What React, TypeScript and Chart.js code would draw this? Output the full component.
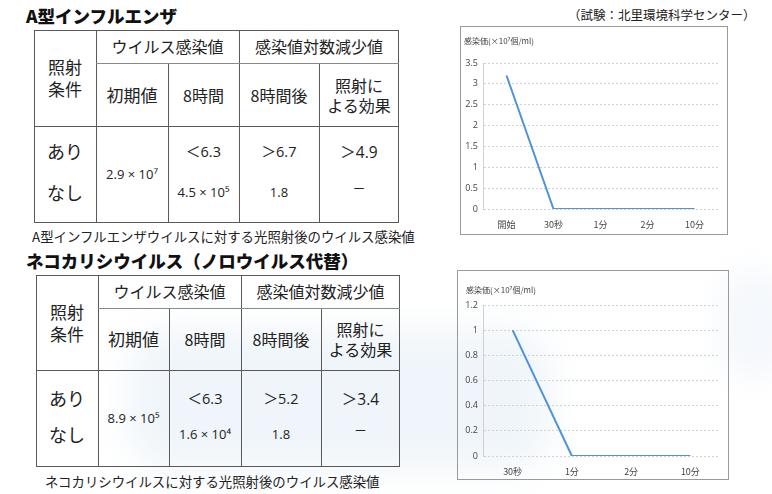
import React, { useEffect, useRef } from "react";
import { Chart, registerables } from "chart.js";

Chart.register(...registerables);

// ---------- data ----------
const fluTimes = ["開始", "30秒", "1分", "2分", "10分"];
const fluValues = [3.2, 0, 0, 0, 0];
const fluYMax = 3.5;
const fluYStep = 0.5;

const fcvTimes = ["30秒", "1分", "2分", "10分"];
const fcvValues = [1, 0, 0, 0];
const fcvYMax = 1.2;
const fcvYStep = 0.2;

const yAxisTitle = "感染価(×10⁷個/ml)";

const fluTitle = "A型インフルエンザ";
const fcvTitle = "ネコカリシウイルス（ノロウイルス代替）";
const sourceNote = "（試験：北里環境科学センター）";
const fluCaption = "A型インフルエンザウイルスに対する光照射後のウイルス感染値";
const fcvCaption = "ネコカリシウイルスに対する光照射後のウイルス感染値";

const headerGroups = ["ウイルス感染値", "感染値対数減少値"];
const headerCond = ["照射", "条件"];
const subHeaders = ["初期値", "8時間", "8時間後", "照射に\nよる効果"];
const conditions = ["あり", "なし"];

const fluInitial = "2.9 × 10⁷";
const fluAfter8h = ["＜6.3", "4.5 × 10⁵"];
const fluLogAfter8h = ["＞6.7", "1.8"];
const fluEffect = ["＞4.9", "－"];

const fcvInitial = "8.9 × 10⁵";
const fcvAfter8h = ["＜6.3", "1.6 × 10⁴"];
const fcvLogAfter8h = ["＞5.2", "1.8"];
const fcvEffect = ["＞3.4", "－"];

const JP = '"Noto Sans CJK JP", "Noto Sans", sans-serif';
const NUM = '"Open Sans", "Noto Sans CJK JP", sans-serif';

// ---------- table ----------
type TableProps = {
  cols: number[];
  rows: number[];
  initial: string;
  after8h: string[];
  logAfter8h: string[];
  effect: string[];
  rowA: number;
  rowB: number;
};

function Txt(props: { x: number; y: number; w: number; h: number; size: number; children: React.ReactNode; lh?: number; font?: string }) {
  const { x, y, w, h, size, children, lh, font } = props;
  return (
    <div
      style={{
        position: "absolute",
        left: x,
        top: y,
        width: w,
        height: h,
        display: "flex",
        alignItems: "center",
        justifyContent: "center",
        textAlign: "center",
        fontSize: size,
        lineHeight: lh ? lh + "px" : "1.2",
        whiteSpace: "pre-line",
        color: "#222",
        fontFamily: font || JP,
      }}
    >
      {children}
    </div>
  );
}

function VirusTable(p: TableProps) {
  const { cols, rows } = p;
  const line = "#5a5a5a";
  const L = cols[0], R = cols[5], T = rows[0], B = rows[3];
  const lines: React.ReactNode[] = [];
  lines.push(<div key="o" style={{ position: "absolute", left: L, top: T, width: R - L, height: B - T, border: `1px solid ${line}`, boxSizing: "border-box" }} />);
  lines.push(<div key="v1" style={{ position: "absolute", left: cols[1], top: T, width: 1, height: B - T, background: line }} />);
  lines.push(<div key="v3" style={{ position: "absolute", left: cols[3], top: T, width: 1, height: B - T, background: line }} />);
  lines.push(<div key="v2" style={{ position: "absolute", left: cols[2], top: rows[1], width: 1, height: B - rows[1], background: line }} />);
  lines.push(<div key="v4" style={{ position: "absolute", left: cols[4], top: rows[1], width: 1, height: B - rows[1], background: line }} />);
  lines.push(<div key="h1" style={{ position: "absolute", left: cols[1], top: rows[1], width: R - cols[1], height: 1, background: "#8a8a8a" }} />);
  lines.push(<div key="h2" style={{ position: "absolute", left: L, top: rows[2], width: R - L, height: 1, background: line }} />);

  const dataTop = rows[2];
  const dataH = B - rows[2];
  const yA = dataTop + dataH * p.rowA;
  const yB = dataTop + dataH * p.rowB;
  const cw = (i: number) => cols[i + 1] - cols[i];

  return (
    <>
      {lines}
      <Txt x={cols[0]} y={T} w={cw(0)} h={rows[2] - T} size={17} lh={22}>{headerCond.join("\n")}</Txt>
      <Txt x={cols[1]} y={T} w={cols[3] - cols[1]} h={rows[1] - T} size={16}>{headerGroups[0]}</Txt>
      <Txt x={cols[3]} y={T} w={cols[5] - cols[3]} h={rows[1] - T} size={16}>{headerGroups[1]}</Txt>
      {subHeaders.map((s, i) => (
        <Txt key={s} x={cols[i + 1]} y={rows[1]} w={cw(i + 1)} h={rows[2] - rows[1]} size={i === 0 ? 17 : 16} lh={20}>{s}</Txt>
      ))}
      <Txt x={cols[0]} y={yA - 12} w={cw(0)} h={24} size={18}>{conditions[0]}</Txt>
      <Txt x={cols[0]} y={yB - 12} w={cw(0)} h={24} size={18}>{conditions[1]}</Txt>
      <Txt x={cols[1]} y={dataTop} w={cw(1)} h={dataH} size={13} font={NUM}>{p.initial}</Txt>
      <Txt x={cols[2]} y={yA - 10} w={cw(2)} h={20} size={14.5} font={NUM}>{p.after8h[0]}</Txt>
      <Txt x={cols[2]} y={yB - 10} w={cw(2)} h={20} size={13} font={NUM}>{p.after8h[1]}</Txt>
      <Txt x={cols[3]} y={yA - 10} w={cw(3)} h={20} size={14.5} font={NUM}>{p.logAfter8h[0]}</Txt>
      <Txt x={cols[3]} y={yB - 10} w={cw(3)} h={20} size={13} font={NUM}>{p.logAfter8h[1]}</Txt>
      <Txt x={cols[4]} y={yA - 10} w={cw(4)} h={20} size={15.5} font={NUM}>{p.effect[0]}</Txt>
      <Txt x={cols[4]} y={yB - 14} w={cw(4)} h={20} size={13} font={NUM}>{p.effect[1]}</Txt>
    </>
  );
}

// ---------- chart ----------
function LineBox(props: {
  left: number; top: number; width: number; height: number;
  labels: string[]; values: number[]; yMax: number; yStep: number;
  padding: { left: number; right: number; top: number; bottom: number };
  yWidth: number; xHeight: number;
  titleX: number; titleY: number;
}) {
  const ref = useRef<HTMLCanvasElement>(null);
  useEffect(() => {
    if (!ref.current) return;
    const chart = new Chart(ref.current, {
      type: "line",
      data: {
        labels: props.labels,
        datasets: [
          {
            data: props.values,
            borderColor: "#4f93d8",
            borderWidth: 2,
            pointRadius: 0,
            tension: 0,
            fill: false,
          },
        ],
      },
      options: {
        animation: false,
        responsive: true,
        maintainAspectRatio: false,
        layout: { padding: props.padding },
        plugins: { legend: { display: false }, tooltip: { enabled: false }, title: { display: false } },
        scales: {
          x: {
            offset: true,
            grid: { display: false, drawTicks: false },
            border: { display: false },
            ticks: { color: "#444", font: { size: 9, family: JP }, padding: 10, maxRotation: 0 },
            afterFit: (s: any) => { s.paddingLeft = 0; s.paddingRight = 0; s.height = props.xHeight; },
          },
          y: {
            min: 0,
            max: props.yMax,
            ticks: {
              stepSize: props.yStep,
              color: "#444",
              font: { size: 9, family: NUM },
              padding: 5,
              callback: (v: any) => String(Math.round(Number(v) * 10) / 10),
            },
            grid: { color: "#d2d2d2", drawTicks: false, lineWidth: 1 },
            border: { display: true, color: "#d0d0d0", dash: [2, 2] },
            afterFit: (s: any) => { s.width = props.yWidth; s.paddingTop = 0; s.paddingBottom = 0; },
          },
        },
      },
    });
    return () => chart.destroy();
  }, []);
  return (
    <div style={{ position: "absolute", left: props.left, top: props.top, width: props.width, height: props.height, border: "1px solid #9a9a9a", boxSizing: "border-box", background: "transparent" }}>
      <canvas ref={ref} />
      <div style={{ position: "absolute", left: props.titleX, top: props.titleY, fontSize: 8, color: "#444", fontFamily: JP, whiteSpace: "nowrap" }}>{yAxisTitle}</div>
    </div>
  );
}

export default function App() {
  useEffect(() => {
    document.body.style.margin = "0";
  }, []);
  return (
    <div style={{ position: "absolute", left: 0, top: 0, width: 772, height: 494, background: "#fff", overflow: "hidden", fontFamily: JP }}>
      <div style={{ position: "absolute", left: 130, top: 330, width: 420, height: 140, borderRadius: 40, background: "rgba(214,229,243,0.4)", filter: "blur(18px)" }} />
      <div style={{ position: "absolute", left: 720, top: 270, width: 70, height: 110, borderRadius: 30, background: "rgba(222,233,244,0.3)", filter: "blur(14px)" }} />
      <div style={{ position: "absolute", left: 26, top: 3, fontSize: 17.5, fontWeight: 900, color: "#111", whiteSpace: "nowrap" }}>{fluTitle}</div>
      <div style={{ position: "absolute", left: 568, top: 5, fontSize: 12.5, color: "#222", whiteSpace: "nowrap" }}>{sourceNote}</div>
      <VirusTable cols={[34, 96, 168, 239, 319, 399]} rows={[30, 63, 126, 223]} initial={fluInitial} after8h={fluAfter8h} logAfter8h={fluLogAfter8h} effect={fluEffect} rowA={0.27} rowB={0.69} />
      <div style={{ position: "absolute", left: 32, top: 226, fontSize: 13.4, color: "#222", whiteSpace: "nowrap" }}>{fluCaption}</div>

      <div style={{ position: "absolute", left: 26, top: 248, fontSize: 17.5, fontWeight: 900, color: "#111", whiteSpace: "nowrap" }}>{fcvTitle}</div>
      <VirusTable cols={[36, 98, 169, 241, 321, 400]} rows={[275, 308, 370, 467]} initial={fcvInitial} after8h={fcvAfter8h} logAfter8h={fcvLogAfter8h} effect={fcvEffect} rowA={0.3} rowB={0.67} />
      <div style={{ position: "absolute", left: 45, top: 471, fontSize: 13.4, color: "#222", whiteSpace: "nowrap" }}>{fcvCaption}</div>

      <LineBox left={460} top={26} width={268} height={209} labels={fluTimes} values={fluValues} yMax={fluYMax} yStep={fluYStep}
        padding={{ left: 2, right: 9, top: 36, bottom: 3 }} yWidth={20} xHeight={22} titleX={3} titleY={8} />
      <LineBox left={457} top={270} width={272} height={210} labels={fcvTimes} values={fcvValues} yMax={fcvYMax} yStep={fcvYStep}
        padding={{ left: 5, right: 8, top: 34, bottom: 1 }} yWidth={20} xHeight={22} titleX={8} titleY={13} />
    </div>
  );
}
